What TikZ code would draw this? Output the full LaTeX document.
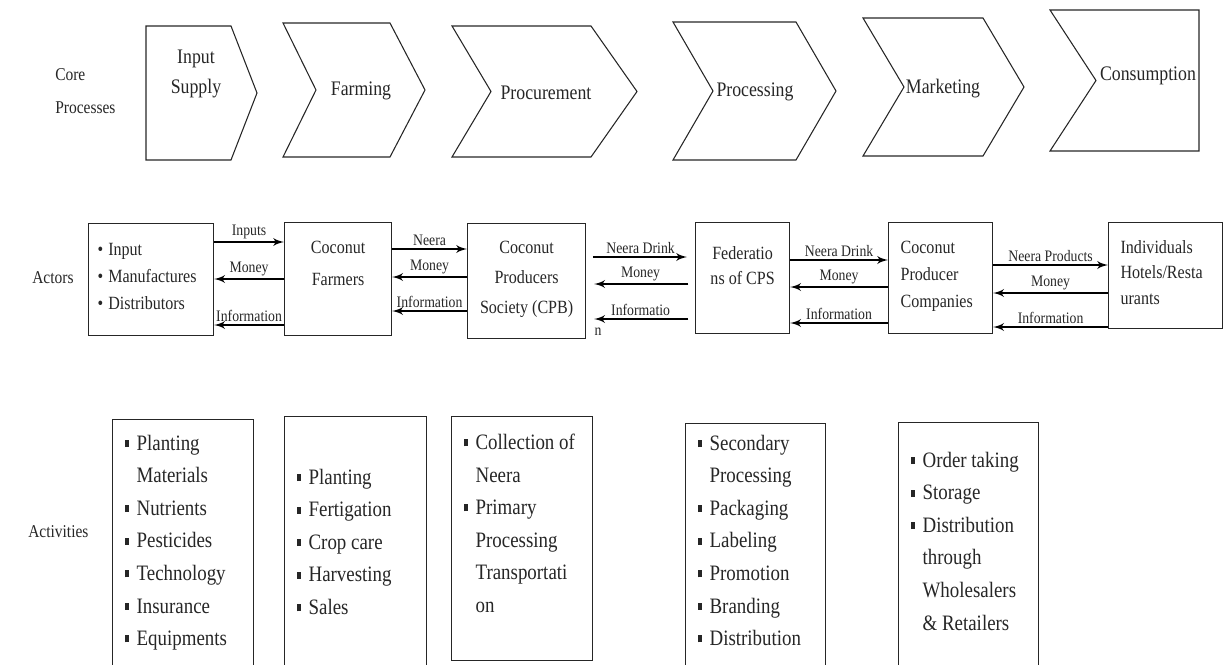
\documentclass[tikz,border=0pt]{standalone}
\usepackage{fontspec}
\setmainfont{Liberation Serif}[FakeStretch=0.86]
\usepackage{tikz}
\usetikzlibrary{arrows}
\newdimen\pxu \pxu=0.75pt
\newcommand{\sqb}{\rule[0.32ex]{0.2em}{0.32em}}
\newcommand{\itm}{\makebox[9pt][l]{\sqb}}
\newcommand{\cnt}{\hspace*{9pt}}
\newcommand{\bul}{\makebox[8pt][l]{\textbullet}}
\newcommand{\cellbody}[4]{\parbox[c][#1\pxu][t]{#2\pxu}{\vspace*{#3\pxu}#4}}
\tikzset{
        chevron/.style = {draw=black!85, line width=0.8pt, line join=miter},
        chevtext/.style = {inner sep=0pt, align=center, text=black!85,
            font=\fontsize{15.5}{22.5}\selectfont},
        rowlabel/.style = {anchor=west, align=left, inner sep=0pt, text=black!85,
            font=\fontsize{13.5}{25}\selectfont},
        actorbox/.style = {draw=black!85, line width=0.9pt, inner sep=0pt,
            anchor=north west, text=black!85, font=\fontsize{14}{20}\selectfont},
        actbox/.style = {draw=black!85, line width=0.9pt, inner xsep=12\pxu,
            inner ysep=0pt, anchor=north west, text=black!85,
            font=\fontsize{16.5}{24.4}\selectfont},
        flow/.style = {->, line width=1.8pt},
        gapflow/.style = {flow, shorten <=5pt, shorten >=6pt},
        flowlabel/.style = {inner sep=1.5pt, text=black!85,
            font=\fontsize{12}{14}\selectfont}
    }
\begin{document}
\begin{tikzpicture}[x=0.75pt, y=-0.75pt, >=latex']
\useasboundingbox (0,0) rectangle (1224,664);

% row titles
\node[rowlabel] (corelbl) at (55,91) {Core\\Processes};
\node[rowlabel] (actorlbl) at (32,278) {Actors};
\node[rowlabel] (activlbl) at (28,532) {Activities};

% core processes
\foreach \xl/\xn/\xr/\xt/\yt/\yb in {146/146/231/257/26/160, 283/316/390/425/23/157,
        452/491/591/637/26/157, 673/713/796/836/22/160, 863/904/983/1024/18/156,
        1050/1096/1199/1199/10/151}
    \draw[chevron] (\xl,\yt) -- (\xr,\yt) -- (\xt,{(\yt+\yb)/2}) -- (\xr,\yb)
        -- (\xl,\yb) -- (\xn,{(\yt+\yb)/2}) -- cycle;
\node[chevtext] (supply) at (196,74) {Input\\Supply};
\node[chevtext] (farming) at (361,91) {Farming};
\node[chevtext] (procure) at (546,93) {Procurement};
\node[chevtext] (process) at (755,92) {Processing};
\node[chevtext] (market) at (943,89) {Marketing};
\node[chevtext] (consume) at (1148,76) {Consumption};

% actors
\node[actorbox, inner xsep=9\pxu] (inp) at (88,223)
    {\cellbody{112}{107}{20}{\raggedright\bul Input\\\bul Manufactures\\\bul Distributors}};
\node[actorbox, font=\fontsize{14}{24}\selectfont] (farm) at (284,222)
    {\cellbody{113}{107}{19}{\centering Coconut\\Farmers}};
\node[actorbox, font=\fontsize{14}{22.5}\selectfont] (cps) at (467,223)
    {\cellbody{115}{118}{18}{\centering Coconut\\Producers\\Society (CPB)}};
\node[actorbox, font=\fontsize{14}{19}\selectfont] (fed) at (695,222)
    {\cellbody{111}{94}{24}{\centering Federatio\\ns of CPS}};
\node[actorbox, inner xsep=12\pxu] (cpc) at (888,222)
    {\cellbody{111}{80}{19}{\raggedright Coconut\\Producer\\Companies}};
\node[actorbox, inner xsep=12\pxu, font=\fontsize{14}{19}\selectfont] (cons) at (1108,222)
    {\cellbody{106}{90}{18}{\raggedright Individuals\\Hotels/Resta\\urants}};

\draw[flow] (inp.east |- 0,242) -- node[flowlabel, above] (inputs) {Inputs} (farm.west |- 0,242);
\draw[flow] (farm.west |- 0,279) -- node[flowlabel, above] (money1) {Money} (inp.east |- 0,279);
\draw[flow] (farm.west |- 0,325) -- node[flowlabel, above] (info1) {Information} (inp.east |- 0,325);

\draw[flow] (farm.east |- 0,249) -- node[flowlabel, above] (neera) {Neera} (cps.west |- 0,249);
\draw[flow] (cps.west |- 0,277) -- node[flowlabel, above] (money2) {Money} (farm.east |- 0,277);
\draw[flow] (cps.west |- 0,311) -- node[flowlabel, above] (info2) {Information} (farm.east |- 0,311);

\draw[gapflow] (cps.east |- 0,257) -- node[flowlabel, above] (drink1) {Neera Drink} (fed.west |- 0,257);
\draw[gapflow] (fed.west |- 0,284) -- node[flowlabel, above] (money3) {Money} (cps.east |- 0,284);
\draw[gapflow] (fed.west |- 0,319) -- node[flowlabel, above] (info3) {Informatio} (cps.east |- 0,319);
\node[flowlabel] (info3n) at (598,332) {n};

\draw[flow] (fed.east |- 0,260) -- node[flowlabel, above] (drink2) {Neera Drink} (cpc.west |- 0,260);
\draw[flow] (cpc.west |- 0,287) -- node[flowlabel, above] (money4) {Money} (fed.east |- 0,287);
\draw[flow] (cpc.west |- 0,323) -- node[flowlabel, above] (info4) {Information} (fed.east |- 0,323);

\draw[flow] (cpc.east |- 0,265) -- node[flowlabel, above] (products) {Neera Products} (cons.west |- 0,265);
\draw[flow] (cons.west |- 0,293) -- node[flowlabel, above] (money5) {Money} (cpc.east |- 0,293);
\draw[flow] (cons.west |- 0,327) -- node[flowlabel, above] (info5) {Information} (cpc.east |- 0,327);

% activities
\node[actbox] (supplyact) at (112,419)
    {\cellbody{251}{117}{15.5}{\raggedright\itm Planting\\\cnt Materials\\\itm Nutrients\\
        \itm Pesticides\\\itm Technology\\\itm Insurance\\\itm Equipments}};
\node[actbox] (farmact) at (284,416)
    {\cellbody{254}{118}{52.5}{\raggedright\itm Planting\\\itm Fertigation\\\itm Crop care\\
        \itm Harvesting\\\itm Sales}};
\node[actbox] (procact) at (451,416)
    {\cellbody{244}{117}{17.5}{\raggedright\itm Collection of\\\cnt Neera\\\itm Primary\\
        \cnt Processing\\\cnt Transportati\\\cnt on}};
\node[actbox] (processact) at (685,423)
    {\cellbody{247}{116}{11.5}{\raggedright\itm Secondary\\\cnt Processing\\\itm Packaging\\
        \itm Labeling\\\itm Promotion\\\itm Branding\\\itm Distribution}};
\node[actbox] (marketact) at (898,422)
    {\cellbody{248}{116}{29.5}{\raggedright\itm Order taking\\\itm Storage\\\itm Distribution\\
        \cnt through\\\cnt Wholesalers\\\cnt \& Retailers}};
\end{tikzpicture}
\end{document}
